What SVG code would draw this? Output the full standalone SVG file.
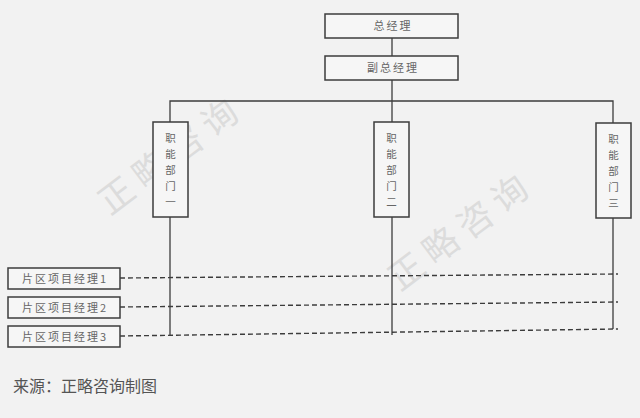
<svg xmlns="http://www.w3.org/2000/svg" width="640" height="418" viewBox="0 0 640 418">
<style>
.box{fill:#f6f6f6;stroke:#3c3c3c;stroke-width:1.5}
.t{font-family:"Noto Sans CJK SC","Noto Sans",sans-serif;font-size:11px;fill:#666;text-anchor:middle;letter-spacing:2px}
.v{font-family:"Noto Sans CJK SC","Noto Sans",sans-serif;font-size:10.5px;fill:#666;text-anchor:middle}
.ln{stroke:#3c3c3c;stroke-width:1.3;fill:none}
.dash{stroke:#3c3c3c;stroke-width:1.4;stroke-dasharray:5 3;fill:none}
.wm{font-family:"Noto Sans CJK SC",sans-serif;font-size:35px;fill:#dcdcdc;letter-spacing:8px}
</style>
<rect width="640" height="418" fill="#f2f2f2"/>
<text class="wm" transform="translate(110,216) rotate(-37)">正略咨询</text>
<text class="wm" transform="translate(400,292) rotate(-37)">正略咨询</text>
<g id="connectors">
<line class="ln" x1="392" y1="38" x2="392" y2="56"/>
<line class="ln" x1="392" y1="80" x2="392" y2="335"/>
<polyline class="ln" points="170,122 170,101 613,101 613,123"/>
<line class="ln" x1="170" y1="217" x2="170" y2="336"/>
<line class="ln" x1="613" y1="218" x2="613" y2="329"/>
<line class="dash" x1="120" y1="278" x2="618" y2="274"/>
<line class="dash" x1="120" y1="307" x2="618" y2="302"/>
<line class="dash" x1="120" y1="336" x2="618" y2="329"/>
</g>
<g id="gm"><rect class="box" x="325" y="14" width="133" height="24"/><text class="t" x="393" y="30">总经理</text></g>
<g id="dgm"><rect class="box" x="325" y="56" width="133" height="24"/><text class="t" x="393" y="72">副总经理</text></g>
<g id="dept1"><rect class="box" x="153" y="122" width="35" height="95"/>
<text class="v" x="170.5" y="142">职</text><text class="v" x="170.5" y="158">能</text><text class="v" x="170.5" y="174">部</text><text class="v" x="170.5" y="190">门</text><text class="v" x="170.5" y="206">一</text></g>
<g id="dept2"><rect class="box" x="374" y="122" width="35" height="95"/>
<text class="v" x="391.5" y="142">职</text><text class="v" x="391.5" y="158">能</text><text class="v" x="391.5" y="174">部</text><text class="v" x="391.5" y="190">门</text><text class="v" x="391.5" y="206">二</text></g>
<g id="dept3"><rect class="box" x="596" y="123" width="35" height="95"/>
<text class="v" x="613.5" y="143">职</text><text class="v" x="613.5" y="159">能</text><text class="v" x="613.5" y="175">部</text><text class="v" x="613.5" y="191">门</text><text class="v" x="613.5" y="207">三</text></g>
<g id="pm1"><rect class="box" x="8" y="268" width="112" height="21"/><text class="t" x="65" y="282.5">片区项目经理1</text></g>
<g id="pm2"><rect class="box" x="8" y="297" width="112" height="21"/><text class="t" x="65" y="311.5">片区项目经理2</text></g>
<g id="pm3"><rect class="box" x="8" y="326" width="112" height="21"/><text class="t" x="65" y="340.5">片区项目经理3</text></g>
<text x="13" y="392" font-family="Noto Sans CJK SC,sans-serif" font-size="16" fill="#555">来源：正略咨询制图</text>
</svg>
